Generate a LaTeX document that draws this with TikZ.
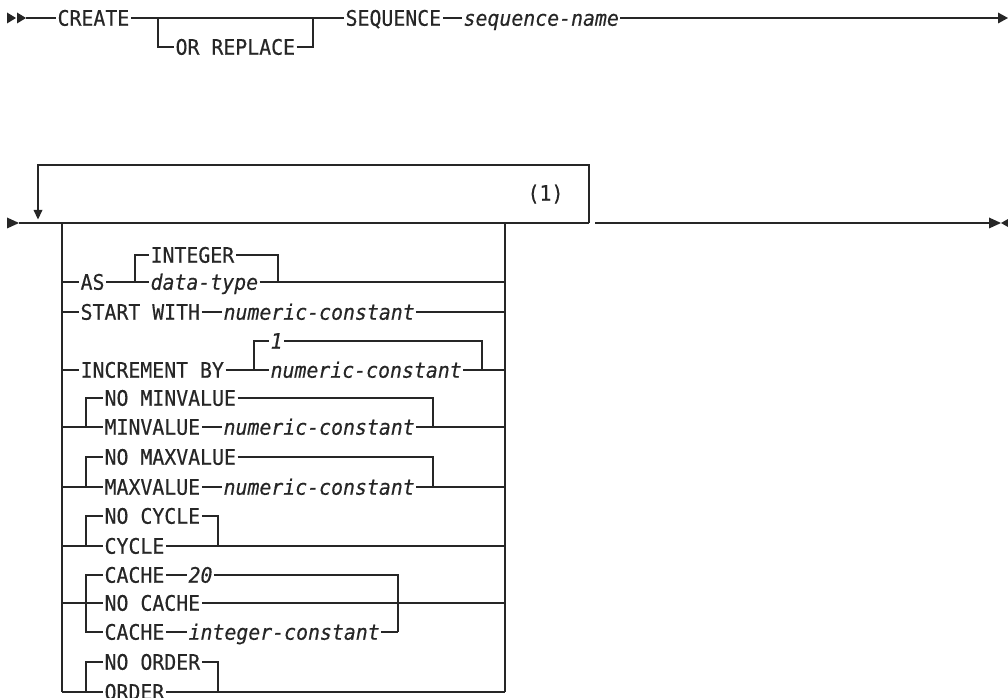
\documentclass[tikz,border=0pt]{standalone}
\usepackage{fontspec}
\newfontfamily\rrfont{DejaVu Sans Mono}[FakeStretch=0.93,FakeBold=0.4]
\definecolor{ink}{HTML}{262626}
\begin{document}
\begin{tikzpicture}[x=0.75pt,y=-0.75pt,
  rr/.style={line width=0.8pt, draw=ink},
  kw/.style={inner xsep=1pt, inner ysep=0pt, text height=11.6pt, text depth=0pt, anchor=west,
             font=\rrfont\fontsize{16}{18}\selectfont, text=ink},
  var/.style={kw, font=\rrfont\itshape\fontsize{16}{18}\selectfont},
  tipfill/.style={fill=ink}]
\useasboundingbox (0,0) rectangle (1008,698);

% ---------- first line ----------
\fill[tipfill] (7,12.5) -- (16,18) -- (7,23.5) -- cycle;
\fill[tipfill] (17,12.5) -- (26,18) -- (17,23.5) -- cycle;
\coordinate (s1) at (26,18);
\coordinate (e1) at (999,18);
\node[kw] (create) at (56,18) {CREATE};
\node[kw] (orrep) at (174,47) {OR REPLACE};
\node[kw] (seq) at (344,18) {SEQUENCE};
\node[var] (seqname) at (462,18) {sequence-name};
\draw[rr] (s1) -- (create.west);
\draw[rr] (create.east) -- (seq.west);
\draw[rr] (158,18) |- (orrep.west);
\draw[rr] (orrep.east) -| (313,18);
\draw[rr] (seq.east) -- (seqname.west);
\draw[rr] (seqname.east) -- (e1);
\fill[tipfill] (998,12.5) -- (1008,18) -- (998,23.5) -- cycle;

% ---------- second part ----------
\fill[tipfill] (7,217.5) -- (19,223) -- (7,228.5) -- cycle;
\coordinate (s2) at (19,223);
\coordinate (loopR) at (589,223);
\coordinate (e2) at (989,223);
\draw[rr] (s2) -- (loopR);
\draw[rr] (595,223) -- (e2);
\fill[tipfill] (989,217.5) -- (1001,223) -- (989,228.5) -- cycle;
\fill[tipfill] (1008,219) -- (1001,223) -- (1008,227) -- cycle;
% repeat loop
\draw[rr] (loopR) -- (589,165) -- (38,165) -- (38,211);
\fill[tipfill] (33.5,210) -- (42.5,210) -- (38,219.5) -- cycle;
\node[kw] (fn) at (526,193) {(1)};

% rails
\coordinate (Ltop) at (62,223);
\coordinate (Lbot) at (62,692);
\coordinate (Rtop) at (505,223);
\coordinate (Rbot) at (505,692);
\draw[rr] (Ltop) -- (Lbot);
\draw[rr] (Rtop) -- (Rbot);

% AS
\node[kw] (as) at (79,282) {AS};
\node[kw] (integer) at (149,255) {INTEGER};
\node[var] (dtype) at (149,282) {data-type};
\draw[rr] (62,282) -- (as.west);
\draw[rr] (as.east) -- (dtype.west);
\draw[rr] (135,282) |- (integer.west);
\draw[rr] (integer.east) -| (278,282);
\draw[rr] (dtype.east) -- (505,282);

% START WITH
\node[kw] (sw) at (79,312) {START WITH};
\node[var] (nc1) at (222,312) {numeric-constant};
\draw[rr] (62,312) -- (sw.west);
\draw[rr] (sw.east) -- (nc1.west);
\draw[rr] (nc1.east) -- (505,312);

% INCREMENT BY
\node[kw] (inc) at (79,370) {INCREMENT BY};
\node[var] (one) at (269,341) {1};
\node[var] (nc2) at (269,370) {numeric-constant};
\draw[rr] (62,370) -- (inc.west);
\draw[rr] (inc.east) -- (nc2.west);
\draw[rr] (254,370) |- (one.west);
\draw[rr] (one.east) -| (482,370);
\draw[rr] (nc2.east) -- (505,370);

% MINVALUE
\node[kw] (nominv) at (103,398) {NO MINVALUE};
\node[kw] (minv) at (103,427) {MINVALUE};
\node[var] (nc3) at (222,427) {numeric-constant};
\draw[rr] (62,427) -- (minv.west);
\draw[rr] (86,427) |- (nominv.west);
\draw[rr] (nominv.east) -| (433,427);
\draw[rr] (minv.east) -- (nc3.west);
\draw[rr] (nc3.east) -- (505,427);

% MAXVALUE
\node[kw] (nomaxv) at (103,457) {NO MAXVALUE};
\node[kw] (maxv) at (103,487) {MAXVALUE};
\node[var] (nc4) at (222,487) {numeric-constant};
\draw[rr] (62,487) -- (maxv.west);
\draw[rr] (86,487) |- (nomaxv.west);
\draw[rr] (nomaxv.east) -| (433,487);
\draw[rr] (maxv.east) -- (nc4.west);
\draw[rr] (nc4.east) -- (505,487);

% CYCLE
\node[kw] (nocyc) at (103,516) {NO CYCLE};
\node[kw] (cyc) at (103,546) {CYCLE};
\draw[rr] (62,546) -- (cyc.west);
\draw[rr] (86,546) |- (nocyc.west);
\draw[rr] (nocyc.east) -| (218,546);
\draw[rr] (cyc.east) -- (505,546);

% CACHE
\node[kw] (cacheA) at (103,575) {CACHE};
\node[var] (twenty) at (187,575) {20};
\node[kw] (nocache) at (103,603) {NO CACHE};
\node[kw] (cacheB) at (103,632) {CACHE};
\node[var] (intc) at (187,632) {integer-constant};
\draw[rr] (62,603) -- (nocache.west);
\draw[rr] (cacheA.west) -| (86,632) -- (cacheB.west);
\draw[rr] (cacheA.east) -- (twenty.west);
\draw[rr] (twenty.east) -| (398,632);
\draw[rr] (cacheB.east) -- (intc.west);
\draw[rr] (intc.east) -- (398,632);
\draw[rr] (nocache.east) -- (505,603);

% ORDER
\node[kw] (noord) at (103,662) {NO ORDER};
\node[kw] (ord) at (103,692) {ORDER};
\draw[rr] (Lbot) -- (ord.west);
\draw[rr] (86,692) |- (noord.west);
\draw[rr] (noord.east) -| (218,692);
\draw[rr] (ord.east) -- (Rbot);
\end{tikzpicture}
\end{document}
